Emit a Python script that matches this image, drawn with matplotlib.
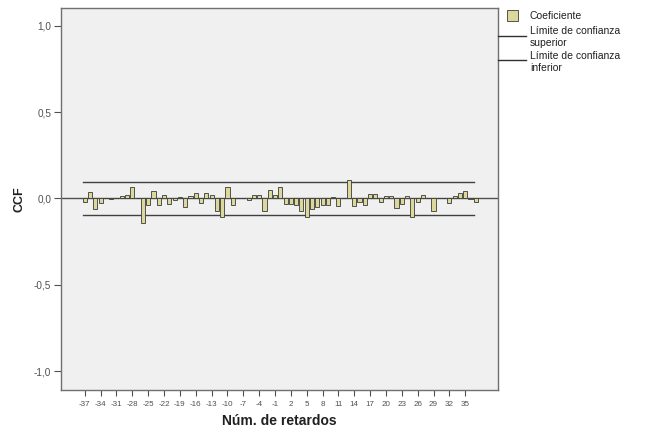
import matplotlib
matplotlib.use("Agg")
import matplotlib.pyplot as plt
from matplotlib.lines import Line2D
from matplotlib.patches import Rectangle

# ---- data ----
lags = list(range(-37, 38))
ccf = [
    -0.020, 0.040, -0.060, -0.025, 0.003, -0.003, 0.002, 0.012, 0.018, 0.065,   # -37..-28
    0.004, -0.140, -0.040, 0.045, -0.035, 0.020, -0.030, -0.010, 0.008, -0.050,  # -27..-18
    0.015, 0.030, -0.025, 0.030, 0.020, -0.070, -0.110, 0.065, -0.040, 0.003,    # -17..-8
    0.005, -0.010, 0.020, 0.020, -0.070, 0.050, 0.020, 0.065, -0.030, -0.030,    # -7..2
    -0.040, -0.070, -0.110, -0.060, -0.050, -0.040, -0.035, 0.010, -0.045, 0.003, # 3..12
    0.110, -0.045, -0.020, -0.035, 0.025, 0.025, -0.020, 0.012, 0.012, -0.055,   # 13..22
    -0.030, 0.012, -0.110, -0.020, 0.020, 0.005, -0.075, 0.005, 0.003, -0.025,   # 23..32
    0.015, 0.030, 0.045, -0.005, -0.020,                                          # 33..37
]
upper_limit = 0.097
lower_limit = -0.097
x_ticks = list(range(-37, 36, 3))
x_tick_labels = [str(v) for v in x_ticks]
y_ticks = [-1.0, -0.5, 0.0, 0.5, 1.0]
y_tick_labels = ["-1,0", "-0,5", "0,0", "0,5", "1,0"]
legend_labels = ["Coeficiente", "Límite de confianza\nsuperior", "Límite de confianza\ninferior"]

plt.rcParams['font.family'] = ['Liberation Sans', 'DejaVu Sans']

W, H = 647, 430
fig = plt.figure(figsize=(W / 100, H / 100), dpi=100)
fig.patch.set_facecolor('white')
ax = fig.add_axes([61 / W, 1 - 390 / H, (498 - 61) / W, (390 - 8) / H])
ax.set_facecolor('#F0F0F0')

bar_face = '#DCD89C'
edge = '#3A3A3A'
ax.bar(lags, ccf, width=0.78, color=bar_face, edgecolor=edge, linewidth=0.6, zorder=3)
ax.axhline(0, color='#505050', lw=1.0, zorder=2)
ax.plot([lags[0] - 0.3, lags[-1] - 0.3], [upper_limit] * 2, color='#404040', lw=1.0, zorder=2)
ax.plot([lags[0] - 0.3, lags[-1] - 0.3], [lower_limit] * 2, color='#404040', lw=1.0, zorder=2)

ax.set_xlim(-41.5, 41.2)
ax.set_ylim(-1.11, 1.104)
ax.set_xticks(x_ticks)
ax.set_xticklabels(x_tick_labels, fontsize=5.8, color='#505050')
ax.set_yticks(y_ticks)
ax.set_yticklabels(y_tick_labels, fontsize=7.2, color='#505050')
ax.tick_params(axis='x', length=4, width=0.8, color='#505050', pad=4)
ax.tick_params(axis='y', length=5, width=0.8, color='#505050', pad=2)
for s in ax.spines.values():
    s.set_color('#707070')
    s.set_linewidth(1.0)

ax.set_ylabel('CCF', fontsize=9, fontweight='bold', color='#202020', labelpad=6)
ax.set_xlabel('Núm. de retardos', fontsize=10, fontweight='bold', color='#202020', labelpad=4)

# ---- legend (outside, right) ----
def fx(px):
    return px / W

def fy(py):
    return 1 - py / H

fig.patches.append(Rectangle((fx(507), fy(21)), 11 / W, 11 / H, transform=fig.transFigure,
                             facecolor=bar_face, edgecolor=edge, linewidth=0.6))
fig.text(fx(530), fy(16), legend_labels[0], fontsize=7.5, color='#202020', va='center', ha='left')
fig.lines.append(Line2D([fx(498), fx(526)], [fy(36), fy(36)], transform=fig.transFigure,
                        color='#303030', lw=1.0))
fig.text(fx(530), fy(37), legend_labels[1], fontsize=7.5, color='#202020', va='center', ha='left',
         linespacing=1.15)
fig.lines.append(Line2D([fx(498), fx(526)], [fy(60), fy(60)], transform=fig.transFigure,
                        color='#303030', lw=1.0))
fig.text(fx(530), fy(62), legend_labels[2], fontsize=7.5, color='#202020', va='center', ha='left',
         linespacing=1.15)

fig.savefig('out.png', dpi=100)
